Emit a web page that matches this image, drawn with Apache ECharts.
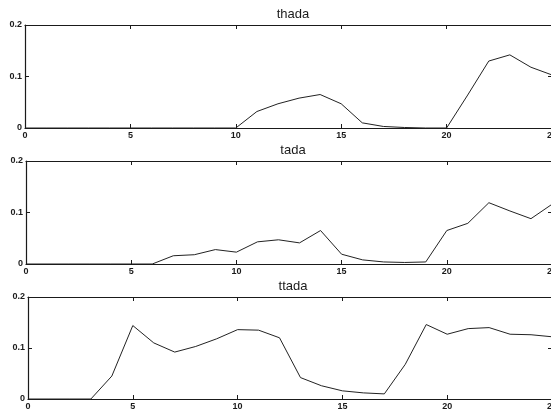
<!DOCTYPE html>
<html>
<head>
<meta charset="utf-8">
<script src="https://cdn.jsdelivr.net/npm/echarts@6/dist/echarts.min.js"></script>
<style>
  html, body { margin: 0; padding: 0; background: #fff; }
  #chart { width: 551px; height: 414px; }
</style>
</head>
<body>
<div id="chart"></div>
<script>
// x positions (samples)
const xs = [0, 1, 2, 3, 4, 5, 6, 7, 8, 9, 10, 11, 12, 13, 14, 15, 16, 17, 18, 19, 20, 21, 22, 23, 24, 25];

// values
const thada = [0, 0, 0, 0, 0, 0, 0, 0, 0, 0, 0, 0.032, 0.047, 0.058, 0.065, 0.047, 0.01, 0.003, 0.001, 0, 0, 0.064, 0.13, 0.142, 0.118, 0.103];
const tada = [0, 0, 0, 0, 0, 0, 0, 0.016, 0.018, 0.028, 0.023, 0.043, 0.047, 0.041, 0.065, 0.019, 0.008, 0.004, 0.003, 0.004, 0.065, 0.079, 0.119, 0.103, 0.088, 0.116];
const ttada = [0, 0, 0, 0, 0.045, 0.144, 0.11, 0.092, 0.103, 0.118, 0.136, 0.135, 0.12, 0.042, 0.026, 0.016, 0.012, 0.01, 0.068, 0.146, 0.127, 0.138, 0.14, 0.127, 0.126, 0.122];

const titles = ['thada', 'tada', 'ttada'];
const seriesData = [thada, tada, ttada];

const chart = echarts.init(document.getElementById('chart'));

// panel boxes (right edge runs just past the window, like the scan)
const grids = [
  { left: 25, top: 25, width: 527, height: 103, outerBoundsMode: 'none', containLabel: false },
  { left: 26, top: 161, width: 526, height: 103, outerBoundsMode: 'none', containLabel: false },
  { left: 28, top: 297, width: 524, height: 102, outerBoundsMode: 'none', containLabel: false }
];

const ink = '#1a1a1a';
const font = 'Liberation Sans, Arial, sans-serif';
const line = { show: true, onZero: false, lineStyle: { color: ink, width: 1.2 } };
const tick = { inside: true, length: 4, lineStyle: { color: ink } };

const xAxes = [];
const yAxes = [];
const series = [];

grids.forEach((g, i) => {
  // bottom x axis with labels
  xAxes.push({
    type: 'value', gridIndex: i, min: 0, max: 25, interval: 5, position: 'bottom',
    axisLine: line, axisTick: tick,
    axisLabel: { color: ink, fontSize: 9, fontWeight: 'bold', fontFamily: font, margin: 3 },
    splitLine: { show: false }
  });
  // top x axis (ticks only)
  xAxes.push({
    type: 'value', gridIndex: i, min: 0, max: 25, interval: 5, position: 'top',
    axisLine: line, axisTick: tick,
    axisLabel: { show: false },
    splitLine: { show: false }
  });
  yAxes.push({
    type: 'value', gridIndex: i, min: 0, max: 0.2, interval: 0.1, position: 'left',
    axisLine: line, axisTick: tick,
    axisLabel: {
      color: ink, fontSize: 9, fontWeight: 'bold', fontFamily: font, margin: 3,
      formatter: v => (v === 0 ? '0' : v.toFixed(1))
    },
    splitLine: { show: false }
  });
  yAxes.push({
    type: 'value', gridIndex: i, min: 0, max: 0.2, interval: 0.1, position: 'right',
    axisLine: line, axisTick: tick,
    axisLabel: { show: false },
    splitLine: { show: false }
  });
  series.push({
    type: 'line',
    xAxisIndex: i * 2,
    yAxisIndex: i * 2,
    data: xs.map((x, k) => [x, seriesData[i][k]]),
    symbol: 'none',
    lineStyle: { color: '#222', width: 1 },
    animation: false
  });
});

const options = {
  backgroundColor: '#fff',
  animation: false,
  title: titles.map((t, i) => ({
    text: t,
    left: 288,
    top: grids[i].top - 22,
    textAlign: 'center',
    textStyle: { fontSize: 13, fontWeight: 'normal', color: ink, fontFamily: font }
  })),
  grid: grids,
  xAxis: xAxes,
  yAxis: yAxes,
  series: series
};

chart.setOption(options);
</script>
</body>
</html>
